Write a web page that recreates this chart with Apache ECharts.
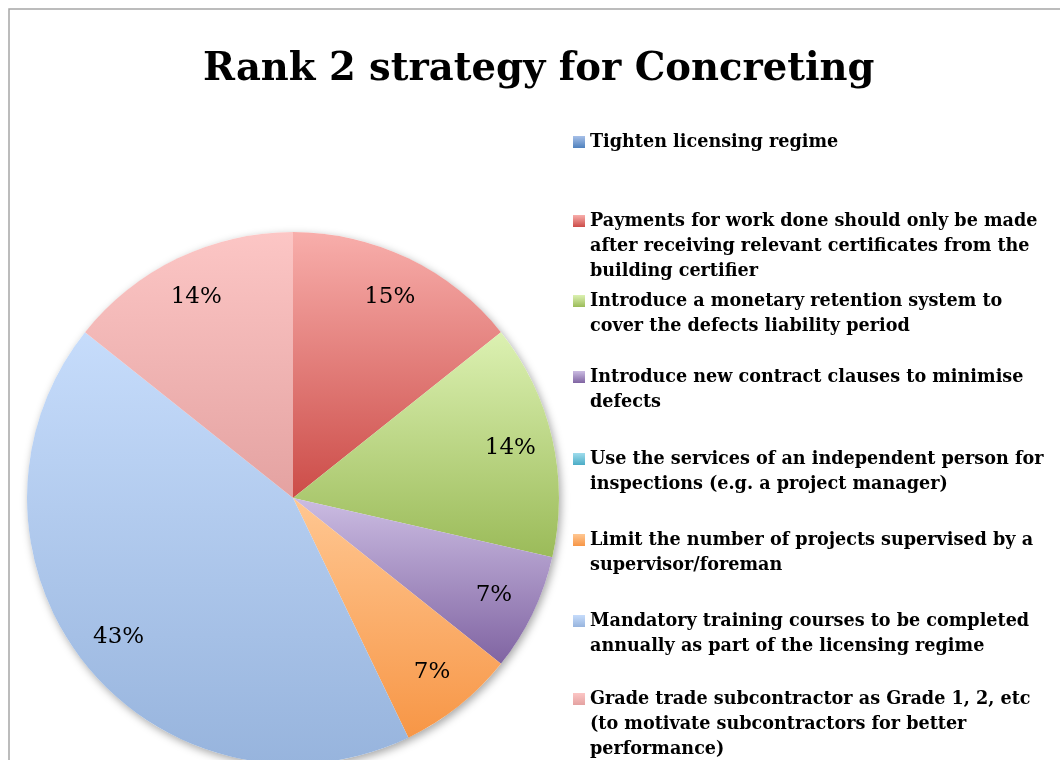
<!DOCTYPE html>
<html>
<head>
<meta charset="utf-8">
<script src="https://cdn.jsdelivr.net/npm/echarts@6/dist/echarts.min.js"></script>
<style>
    html, body { margin: 0; padding: 0; background: #fff; }
    #main { width: 1060px; height: 760px; }
</style>
</head>
<body>
<div id="main"></div>
<script>
// 图表数据
var categories = [
    'Tighten licensing regime',
    'Payments for work done should only be made\nafter receiving relevant certificates from the\nbuilding certifier',
    'Introduce a monetary retention system to\ncover the defects liability period',
    'Introduce new contract clauses to minimise\ndefects',
    'Use the services of an independent person for\ninspections (e.g. a project manager)',
    'Limit the number of projects supervised by a\nsupervisor/foreman',
    'Mandatory training courses to be completed\nannually as part of the licensing regime',
    'Grade trade subcontractor as Grade 1, 2, etc\n(to motivate subcontractors for better\nperformance)'
];
var counts = [0, 2, 2, 1, 0, 1, 6, 2];
var percentLabels = ['0%', '15%', '14%', '7%', '0%', '7%', '43%', '14%'];
var colorTop = ['#a7c0e8', '#f8aeab', '#dcf1b2', '#cbbce2', '#9fdcec', '#ffc792', '#c6dcfb', '#fcc6c5'];
var colorBottom = ['#4f81bd', '#cc4c48', '#9bbb59', '#8064a2', '#4bacc6', '#f79646', '#97b4dd', '#e4a2a1'];
var legendBaselines = [148, 227, 307, 383, 465, 546, 627, 705];

var myChart = echarts.init(document.getElementById('main'));

function grad(i) {
    return new echarts.graphic.LinearGradient(0, 0, 0, 1, [
        { offset: 0, color: colorTop[i] },
        { offset: 1, color: colorBottom[i] }
    ]);
}

var pieData = categories.map(function (name, i) {
    return { name: name, value: counts[i], itemStyle: { color: grad(i) } };
});
var total = counts.reduce(function (a, b) { return a + b; }, 0);

var center = [293, 498];
var radius = 266;
var lineH = 25;

// 每个图例单独一个组件, 图标对齐第一行
var legends = categories.map(function (name, i) {
    var lines = name.split('\n').length;
    var pad = new Array(lines).join('\n'); // 前面补空行, 让第一行落在图标中线上
    return {
        data: [name],
        orient: 'vertical',
        left: 573,
        top: legendBaselines[i] - 6 - (2 * lines - 1) * lineH / 2,
        padding: 0,
        itemWidth: 12,
        itemHeight: 12,
        icon: 'rect',
        selectedMode: false,
        formatter: function (n) { return pad + n; },
        textStyle: {
            fontFamily: 'DejaVu Serif',
            fontWeight: 'bold',
            fontSize: 17.6,
            color: '#000',
            lineHeight: lineH
        }
    };
});

var option = {
    animation: false,
    backgroundColor: '#fff',
    title: {
        text: 'Rank 2 strategy for Concreting',
        left: 203,
        top: 50,
        padding: 0,
        textStyle: {
            fontFamily: 'DejaVu Serif',
            fontWeight: 'bold',
            fontSize: 38.5,
            color: '#000'
        }
    },
    legend: legends,
    graphic: [{
        type: 'polyline',
        silent: true,
        shape: { points: [[9, 760], [9, 9], [1060, 9]] },
        style: { stroke: '#a6a6a6', lineWidth: 1.5, fill: null }
    }],
    series: [
        {
            // 阴影底
            type: 'pie',
            silent: true,
            center: center,
            radius: radius,
            z: 1,
            label: { show: false },
            labelLine: { show: false },
            itemStyle: {
                color: '#fff',
                shadowBlur: 8,
                shadowOffsetX: 2,
                shadowOffsetY: 3,
                shadowColor: 'rgba(0,0,0,0.35)'
            },
            data: [{ name: 'shadow', value: total }]
        },
        {
            type: 'pie',
            silent: true,
            center: center,
            radius: radius,
            startAngle: 90,
            clockwise: true,
            z: 2,
            label: { show: false },
            labelLine: { show: false },
            itemStyle: { borderWidth: 0 },
            data: pieData
        },
        {
            // 标签层
            type: 'pie',
            silent: true,
            center: center,
            radius: [174, radius],
            startAngle: 90,
            clockwise: true,
            z: 3,
            itemStyle: { color: 'rgba(0,0,0,0)' },
            labelLine: { show: false },
            label: {
                show: true,
                position: 'inside',
                fontFamily: 'DejaVu Serif',
                fontSize: 23,
                color: '#000',
                formatter: function (p) {
                    return p.value === 0 ? '' : percentLabels[p.dataIndex];
                }
            },
            data: categories.map(function (name, i) {
                return { name: name, value: counts[i] };
            })
        }
    ]
};

myChart.setOption(option);
</script>
</body>
</html>
